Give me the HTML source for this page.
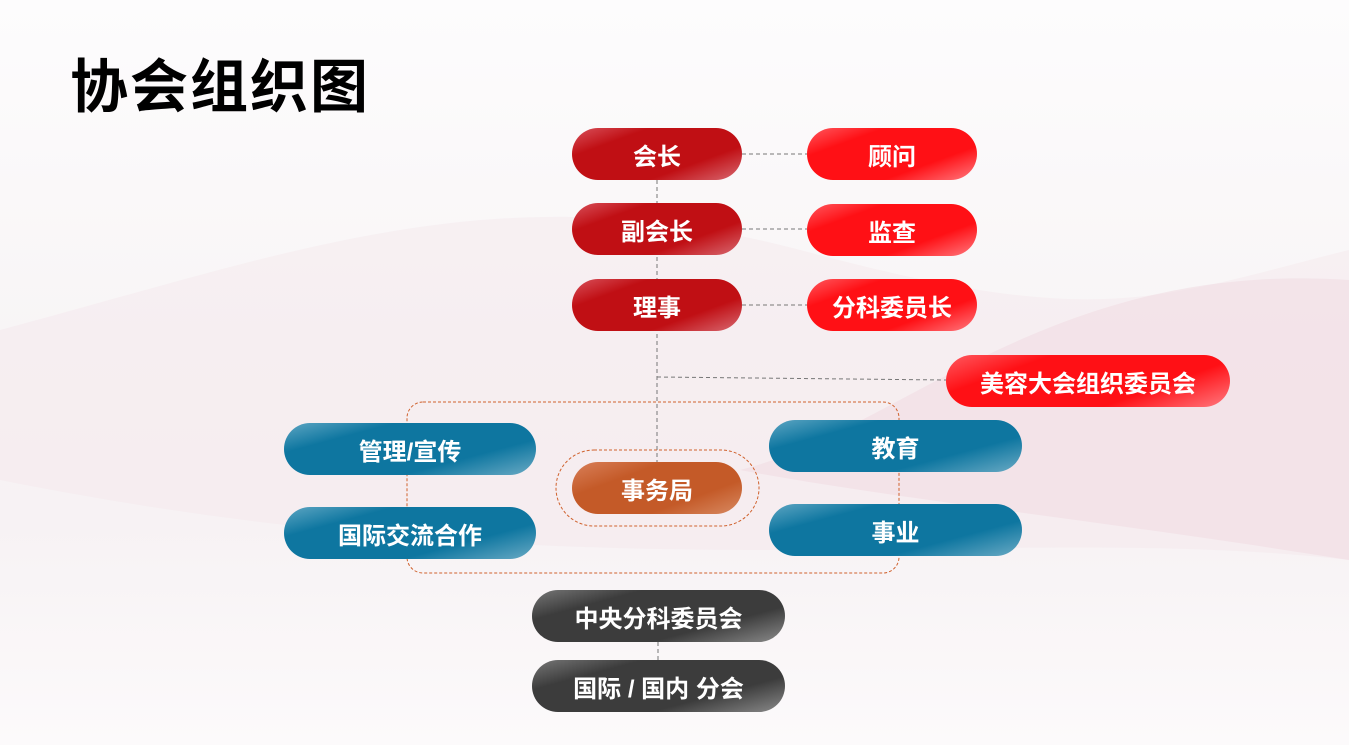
<!DOCTYPE html>
<html><head><meta charset="utf-8"><style>
body{margin:0;width:1349px;height:745px;overflow:hidden;position:relative;font-family:"Liberation Sans","Noto Sans CJK SC",sans-serif;
background:linear-gradient(180deg,#fdfcfd 0%,#f8f5f6 45%,#f7f2f4 70%,#fcfafb 100%);}
.t{position:absolute;left:70px;top:40px;font-size:58px;font-weight:bold;color:#000;letter-spacing:2px}
.p{position:absolute;border-radius:27px;color:#fff;font-weight:bold;font-size:24px;display:flex;align-items:center;justify-content:center;box-sizing:border-box}
.r1{background:linear-gradient(160deg,#d9525c 0%,#c00f14 25%,#c00f14 70%,#d86a72 100%)}
.r2{background:linear-gradient(160deg,#ff5a60 0%,#ff1015 25%,#ff1015 70%,#ff7a80 100%)}
.b{background:linear-gradient(165deg,#5ea6c3 0%,#0e76a0 25%,#0e76a0 70%,#6aaac4 100%)}
.o{background:linear-gradient(160deg,#d9805a 0%,#c45a28 30%,#c45a28 70%,#d88a62 100%)}
.g{background:linear-gradient(165deg,#777 0%,#3c3c3c 25%,#3c3c3c 70%,#8a8a8a 100%)}
svg{position:absolute;left:0;top:0}
</style></head><body>
<svg width="1349" height="745">
<path d="M0 330 C300 250 500 170 800 250 S1150 300 1349 250 L1349 560 C1000 520 600 600 0 480Z" fill="#f3e6ea" opacity="0.45"/>
<path d="M740 470 C900 430 1050 260 1349 280 L1349 560 C1100 520 900 500 740 470Z" fill="#f0dbe2" opacity="0.55"/>
<g stroke="#777" stroke-dasharray="4,3" stroke-width="1" fill="none">
<line x1="657" y1="180" x2="657" y2="462"/>
<line x1="742" y1="154" x2="807" y2="154"/>
<line x1="742" y1="229" x2="807" y2="229"/>
<line x1="742" y1="305" x2="807" y2="305"/>
<line x1="657" y1="377" x2="946" y2="380"/>
<line x1="658" y1="642" x2="658" y2="660"/>
</g>
<g stroke="#d0622e" stroke-dasharray="3,2" stroke-width="1" fill="none">
<rect x="407" y="402" width="492" height="171" rx="16"/>
<rect x="556" y="450" width="203" height="76" rx="38"/>
</g>
</svg>
<div class="t">协会组织图</div>
<div class="p r1" style="left:572px;top:128px;width:170px;height:52px">会长</div>
<div class="p r2" style="left:807px;top:128px;width:170px;height:52px">顾问</div>
<div class="p r1" style="left:572px;top:203px;width:170px;height:52px">副会长</div>
<div class="p r2" style="left:807px;top:204px;width:170px;height:52px">监查</div>
<div class="p r1" style="left:572px;top:279px;width:170px;height:52px">理事</div>
<div class="p r2" style="left:807px;top:279px;width:170px;height:52px">分科委员长</div>
<div class="p r2" style="left:946px;top:355px;width:284px;height:52px">美容大会组织委员会</div>
<div class="p b" style="left:284px;top:423px;width:252px;height:52px">管理/宣传</div>
<div class="p b" style="left:284px;top:507px;width:252px;height:52px">国际交流合作</div>
<div class="p b" style="left:769px;top:420px;width:253px;height:52px">教育</div>
<div class="p b" style="left:769px;top:504px;width:253px;height:52px">事业</div>
<div class="p o" style="left:572px;top:462px;width:170px;height:52px">事务局</div>
<div class="p g" style="left:532px;top:590px;width:253px;height:52px">中央分科委员会</div>
<div class="p g" style="left:532px;top:660px;width:253px;height:52px">国际 / 国内 分会</div>
</body></html>
